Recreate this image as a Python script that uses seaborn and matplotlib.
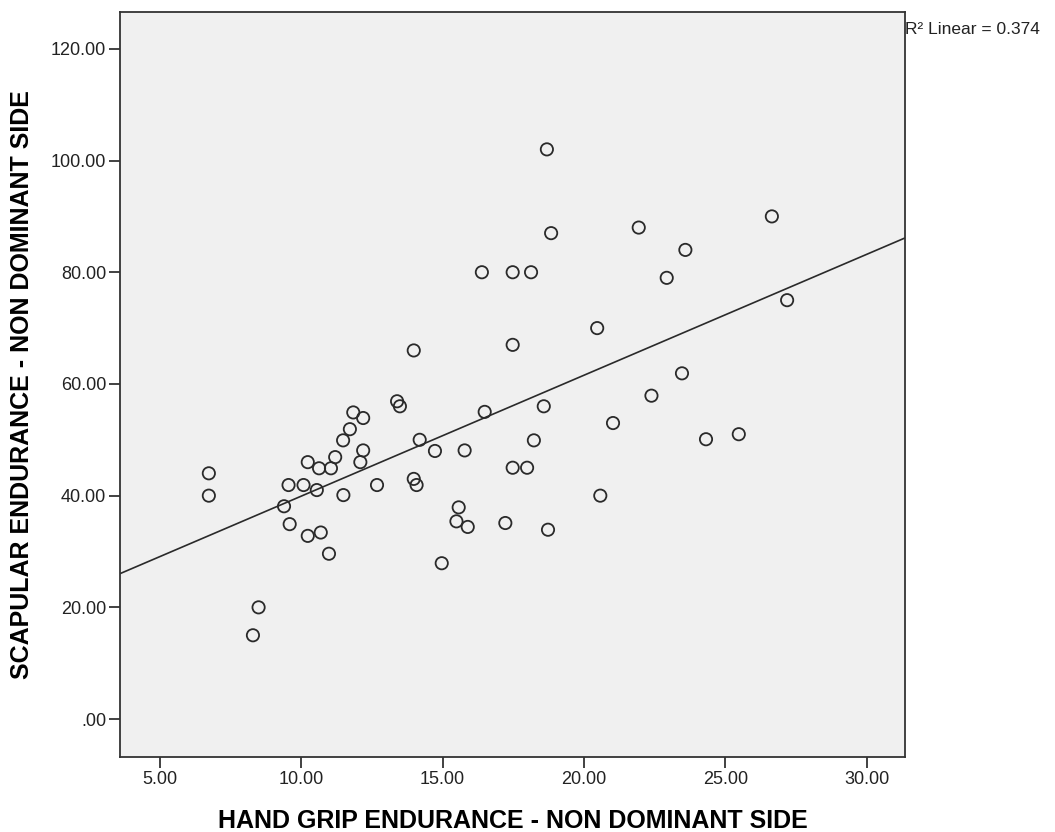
import numpy as np
import matplotlib
matplotlib.use('Agg')
import matplotlib.pyplot as plt
from matplotlib.ticker import FuncFormatter
import seaborn as sns
import pandas as pd

# hand grip endurance (x) and scapular endurance (y), non dominant side
hand_grip = [6.73, 6.73, 8.49, 8.29, 9.39, 9.55, 9.59, 10.08, 10.23, 10.23,
             10.55, 10.63, 10.69, 11.05, 10.98, 11.20, 11.48, 11.49, 11.72, 11.84,
             12.19, 12.09, 12.19, 12.68, 13.39, 13.49, 13.98, 13.98, 14.08, 14.19,
             14.73, 14.97, 15.57, 15.49, 15.89, 15.78, 16.39, 16.49, 17.22, 17.48,
             17.48, 17.48, 17.99, 18.13, 18.23, 18.58, 18.69, 18.84, 18.73, 20.47,
             20.58, 21.03, 21.94, 22.39, 22.93, 23.47, 23.59, 24.32, 25.48, 26.65,
             27.19]
scapular = [44.0, 40.0, 20.0, 15.0, 38.1, 41.9, 34.9, 41.9, 46.0, 32.8,
            41.0, 44.9, 33.4, 44.9, 29.6, 46.9, 49.9, 40.1, 51.9, 54.9,
            53.9, 46.0, 48.1, 41.9, 56.9, 56.0, 66.0, 43.0, 41.9, 50.0,
            48.0, 27.9, 37.9, 35.4, 34.4, 48.1, 80.0, 55.0, 35.1, 80.0,
            67.0, 45.0, 45.0, 80.0, 49.9, 56.0, 102.0, 87.0, 33.9, 70.0,
            40.0, 53.0, 88.0, 57.9, 79.0, 61.9, 84.0, 50.1, 51.0, 90.0,
            75.0]
x_ticks = [5, 10, 15, 20, 25, 30]
y_ticks = [0, 20, 40, 60, 80, 100, 120]
r2_text = 'R² Linear = 0.374'

df = pd.DataFrame({'hand_grip': hand_grip, 'scapular': scapular})

sns.set_style('ticks', {'axes.facecolor': '#F0F0F0', 'axes.edgecolor': '#333333'})
plt.rcParams['font.family'] = ['Liberation Sans', 'DejaVu Sans']

fig = plt.figure(figsize=(10.55, 8.32), dpi=100)
ax = fig.add_axes([0.1137, 0.0901, 0.7441, 0.8955])
ax.set_xlim(3.585, 31.36)
ax.set_ylim(-6.8, 126.6)

sns.regplot(data=df, x='hand_grip', y='scapular', ax=ax, ci=None, truncate=False,
            color='#2a2a2a',
            scatter_kws=dict(facecolors='none', edgecolors='#2a2a2a', s=78,
                             linewidths=1.3, alpha=1),
            line_kws=dict(color='#2a2a2a', lw=1.2))


def spss_fmt(v, pos):
    s = f'{v:.2f}'
    if s.startswith('0.'):
        s = s[1:]
    return s


ax.set_xticks(x_ticks)
ax.set_yticks(y_ticks)
ax.xaxis.set_major_formatter(FuncFormatter(spss_fmt))
ax.yaxis.set_major_formatter(FuncFormatter(spss_fmt))
ax.tick_params(axis='both', length=8, width=1.3, labelsize=13, labelcolor='#222222',
               color='#333333', pad=2)
for sp in ax.spines.values():
    sp.set_linewidth(1.3)

ax.set_xlabel('HAND GRIP ENDURANCE - NON DOMINANT SIDE', fontsize=18, fontweight='bold',
              labelpad=15, color='black')
ax.set_ylabel('SCAPULAR ENDURANCE - NON DOMINANT SIDE', fontsize=18, fontweight='bold',
              labelpad=12, color='black')

ax.text(1.0, 0.977, r2_text, transform=ax.transAxes, ha='left', va='center',
        fontsize=12.5, color='#222222')

fig.savefig('out.png', dpi=100)
